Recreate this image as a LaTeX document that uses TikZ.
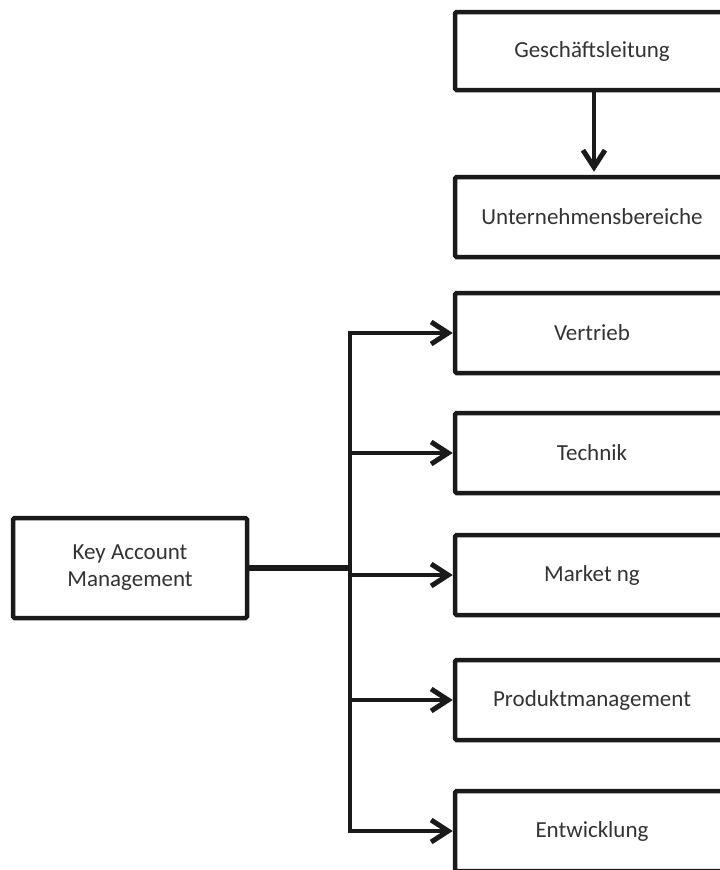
\documentclass[tikz,border=0pt]{standalone}
\usepackage{fontspec}
\setmainfont{Carlito}
\usetikzlibrary{arrows.meta}
\definecolor{inkline}{HTML}{1A1A1A}
\definecolor{inktext}{HTML}{333333}
\tikzset{
  x=1pt, y=1pt,
  unit/.style={draw=inkline, line width=4.5pt, rounded corners=1.5pt, fill=white,
    minimum width=274pt, minimum height=80pt, inner sep=0pt,
    font=\fontsize{23}{27}\selectfont, text=inktext, align=center},
  link/.style={draw=inkline, line width=4.5pt},
  feed/.style={link, -{Straight Barb[length=17pt,width=22pt,line width=5pt]}}
}
\begin{document}
\begin{tikzpicture}
\useasboundingbox (0,0) rectangle (720,-870);
\clip (0,0) rectangle (720,-870);

% top level and its business units
\node[unit, minimum height=78pt] (gl) at (592,-51) {Geschäftsleitung};
\node[unit] (ub) at (592,-217) {Unternehmensbereiche};

% departments served by key account management
\node[unit] (vt) at (592,-333) {Vertrieb};
\node[unit] (te) at (592,-453) {Technik};
\node[unit] (mk) at (592,-575) {Market ng};
\node[unit] (pm) at (592,-700) {Produktmanagement};
\node[unit] (ew) at (592,-831) {Entwicklung};

\node[unit, minimum width=234pt, minimum height=100pt,
  font=\fontsize{23}{27}\selectfont] (kam) at (130,-568) {Key Account\\Management};

% vertical bus
\coordinate (bt) at (350,-333);
\coordinate (bm) at (350,-568);
\coordinate (bb) at (350,-831);
\draw[link, line cap=rect] (bt) -- (bb);
\draw[link, line width=6.5pt] (kam.east) -- (bm);

% connectors
\draw[feed, shorten >=3pt] (gl.south -| 594,0) -- (ub.north -| 594,0);
\draw[feed] (bt) -- (vt.west);
\draw[feed] (350,-453) -- (te.west);
\draw[feed] (350,-575) -- (mk.west);
\draw[feed] (350,-700) -- (pm.west);
\draw[feed] (bb) -- (ew.west);
\end{tikzpicture}
\end{document}
